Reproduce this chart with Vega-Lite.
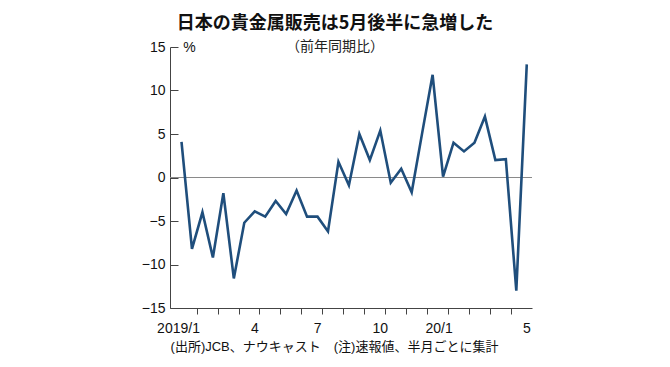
{
  "$schema": "https://vega.github.io/schema/vega-lite/v6.json",
  "autosize": {"type": "none"},
  "padding": {"left": 170, "top": 47, "right": 138, "bottom": 59},
  "width": 362,
  "height": 261,
  "background": "white",
  "config": {
    "view": {"stroke": null},
    "font": "Liberation Sans, Noto Sans CJK JP",
    "axis": {"labelFont": "Liberation Sans, Noto Sans CJK JP", "titleFont": "Liberation Sans, Noto Sans CJK JP"}
  },
  "title": {
    "text": "日本の貴金属販売は5月後半に急増した",
    "subtitle": "（前年同期比）",
    "font": "Noto Sans CJK JP",
    "fontSize": 18,
    "fontWeight": "bold",
    "color": "#111111",
    "subtitleFont": "Noto Sans CJK JP",
    "subtitleFontSize": 14,
    "subtitleColor": "#222222",
    "subtitlePadding": 7,
    "anchor": "middle",
    "frame": "group",
    "dx": -16,
    "offset": -14
  },
  "data": {
    "values": [
      {"period": "2019-01-1", "value": 4.1},
      {"period": "2019-01-2", "value": -8.2},
      {"period": "2019-02-1", "value": -4.0},
      {"period": "2019-02-2", "value": -9.2},
      {"period": "2019-03-1", "value": -1.8},
      {"period": "2019-03-2", "value": -11.6},
      {"period": "2019-04-1", "value": -5.2},
      {"period": "2019-04-2", "value": -3.9},
      {"period": "2019-05-1", "value": -4.5},
      {"period": "2019-05-2", "value": -2.7},
      {"period": "2019-06-1", "value": -4.2},
      {"period": "2019-06-2", "value": -1.5},
      {"period": "2019-07-1", "value": -4.5},
      {"period": "2019-07-2", "value": -4.5},
      {"period": "2019-08-1", "value": -6.2},
      {"period": "2019-08-2", "value": 1.8},
      {"period": "2019-09-1", "value": -0.9},
      {"period": "2019-09-2", "value": 5.0},
      {"period": "2019-10-1", "value": 2.0},
      {"period": "2019-10-2", "value": 5.4},
      {"period": "2019-11-1", "value": -0.6},
      {"period": "2019-11-2", "value": 1.0},
      {"period": "2019-12-1", "value": -1.7},
      {"period": "2019-12-2", "value": 5.1},
      {"period": "2020-01-1", "value": 11.8},
      {"period": "2020-01-2", "value": 0.1},
      {"period": "2020-02-1", "value": 4.0},
      {"period": "2020-02-2", "value": 3.0},
      {"period": "2020-03-1", "value": 4.0},
      {"period": "2020-03-2", "value": 7.0},
      {"period": "2020-04-1", "value": 2.0},
      {"period": "2020-04-2", "value": 2.1},
      {"period": "2020-05-1", "value": -13.0},
      {"period": "2020-05-2", "value": 13.0}
    ]
  },
  "layer": [
    {
      "mark": {"type": "rule", "color": "#8a8a8a", "strokeWidth": 1.2},
      "encoding": {"y": {"datum": 0, "type": "quantitative", "scale": {"domain": [-15, 15]}}}
    },
    {
      "mark": {"type": "line", "color": "#1f4e7c", "strokeWidth": 2.6, "strokeJoin": "miter"},
      "encoding": {
        "x": {
          "field": "period",
          "type": "ordinal",
          "sort": null,
          "scale": {"type": "band", "paddingInner": 0, "paddingOuter": 0.3, "align": 1},
          "axis": {
            "values": ["2019-01-1","2019-02-1","2019-03-1","2019-04-1","2019-05-1","2019-06-1","2019-07-1","2019-08-1","2019-09-1","2019-10-1","2019-11-1","2019-12-1","2020-01-1","2020-02-1","2020-03-1","2020-04-1","2020-05-1"],
            "bandPosition": 0,
            "labelExpr": "datum.value === '2019-01-1' ? '2019/1' : datum.value === '2019-04-1' ? '4' : datum.value === '2019-07-1' ? '7' : datum.value === '2019-10-1' ? '10' : datum.value === '2020-01-1' ? '20/1' : datum.value === '2020-05-1' ? '5' : ''",
            "labelOffset": {"condition": [{"test": "datum.value === '2019-01-1'", "value": -3}, {"test": "datum.value === '2020-01-1'", "value": 6.5}], "value": 10.5},
            "labelAngle": 0,
            "labelAlign": "center",
            "labelOverlap": false,
            "labelBound": false,
            "labelFontSize": 14,
            "labelColor": "#111111",
            "labelPadding": 7,
            "tickSize": 6,
            "tickColor": "#444444",
            "tickOpacity": {"condition": {"test": "datum.value === '2019-01-1'", "value": 0}, "value": 1},
            "domainColor": "#444444",
            "grid": false,
            "title": "(出所)JCB、ナウキャスト　(注)速報値、半月ごとに集計",
            "titleFontSize": 13,
            "titleFontWeight": "normal",
            "titleColor": "#111111",
            "titleAlign": "center",
            "titleBaseline": "middle",
            "titleX": 164,
            "titleY": 38
          }
        },
        "y": {
          "field": "value",
          "type": "quantitative",
          "scale": {"domain": [-15, 15], "nice": false, "zero": false},
          "axis": {
            "values": [-15, -10, -5, 0, 5, 10, 15],
            "format": "d",
            "labelFontSize": 14,
            "labelColor": "#111111",
            "labelPadding": 13,
            "tickSize": -8,
            "tickColor": "#444444",
            "domainColor": "#444444",
            "grid": false,
            "title": "%",
            "titleAngle": 0,
            "titleFontSize": 14,
            "titleFontWeight": "normal",
            "titleColor": "#111111",
            "titleAlign": "center",
            "titleBaseline": "middle",
            "titleX": 19,
            "titleY": 0
          }
        }
      }
    }
  ]
}
